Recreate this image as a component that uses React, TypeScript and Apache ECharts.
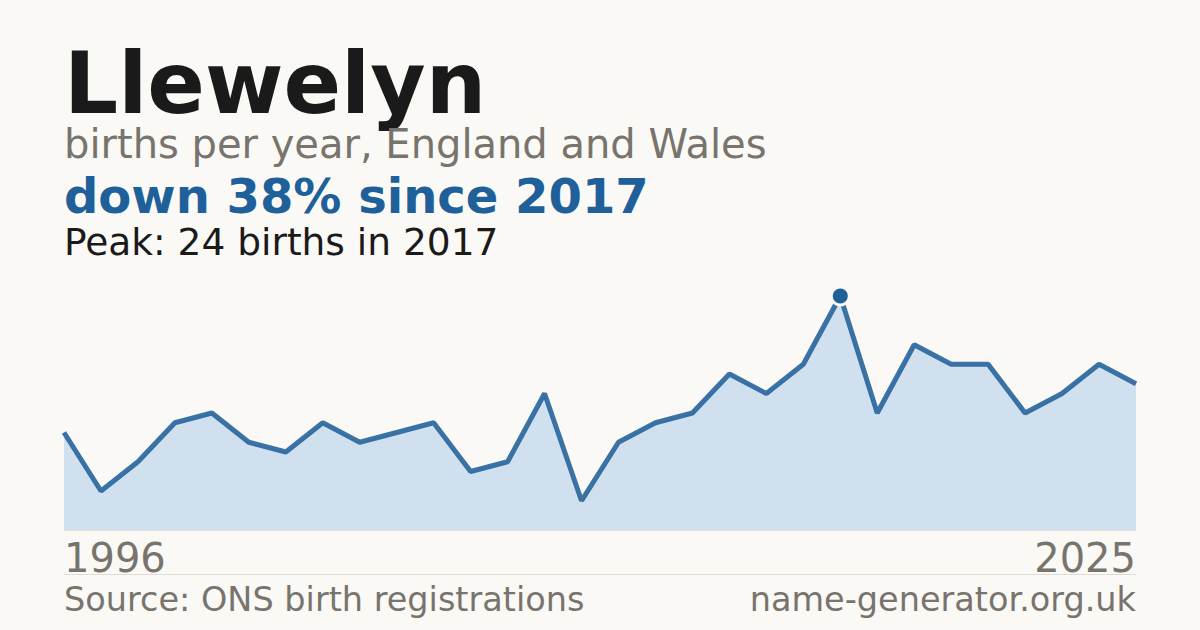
import { useEffect, useRef } from 'react'
import * as echarts from 'echarts'

const years = [
  '1996', '1997', '1998', '1999', '2000', '2001', '2002', '2003', '2004', '2005',
  '2006', '2007', '2008', '2009', '2010', '2011', '2012', '2013', '2014', '2015',
  '2016', '2017', '2018', '2019', '2020', '2021', '2022', '2023', '2024', '2025',
]
const births = [10, 4, 7, 11, 12, 9, 8, 11, 9, 10, 11, 6, 7, 14, 3, 9, 11, 12, 16, 14, 17, 24, 12, 19, 17, 17, 12, 14, 17, 15]
const peakYear = '2017'

const FONT = '"DejaVu Sans", sans-serif'
const BG = '#faf9f5'
const BLUE = '#20609a'
const GREY = '#78746d'

export default function App() {
  const chartRef = useRef<HTMLDivElement>(null)

  useEffect(() => {
    document.body.style.margin = '0'
    if (!chartRef.current) return
    const chart = echarts.init(chartRef.current, undefined, { renderer: 'svg' })
    const peakIdx = years.indexOf(peakYear)

    chart.setOption({
      animation: false,
      backgroundColor: BG,
      grid: { left: 64, right: 64, top: 296, bottom: 100 },
      xAxis: {
        type: 'category',
        data: years,
        boundaryGap: false,
        axisLine: { show: true, lineStyle: { color: '#e4dfd8', width: 1 } },
        axisTick: { show: false },
        axisLabel: {
          interval: (i: number) => i === 0 || i === years.length - 1,
          alignMinLabel: 'left',
          alignMaxLabel: 'right',
          color: GREY,
          fontFamily: FONT,
          fontSize: 40,
          margin: 8,
        },
      },
      yAxis: { type: 'value', min: 0, max: 24, show: false, splitLine: { show: false } },
      series: [
        {
          type: 'line',
          data: births.map((v, i) =>
            i === peakIdx
              ? {
                  value: v,
                  symbol: 'circle',
                  symbolSize: 18,
                  itemStyle: { color: BLUE, borderColor: BG, borderWidth: 3 },
                }
              : { value: v, symbol: 'none' }
          ),
          showSymbol: true,
          lineStyle: { color: BLUE, width: 5, opacity: 0.88 },
          areaStyle: { color: '#d0e0ef', opacity: 1 },
          z: 2,
        },
      ],
      graphic: [
        {
          type: 'text',
          left: 64,
          top: 41,
          style: { text: 'Llewelyn', font: `bold 85px ${FONT}`, lineHeight: 81, fill: '#1a1a1a' },
        },
        {
          type: 'text',
          left: 64,
          top: 124,
          style: { text: 'births per year, England and Wales', font: `40px ${FONT}`, fill: GREY },
        },
        {
          type: 'text',
          left: 64,
          top: 172,
          style: { text: `down 38% since ${peakYear}`, font: `bold 48px ${FONT}`, fill: BLUE },
        },
        {
          type: 'text',
          left: 64,
          top: 223,
          style: { text: `Peak: 24 births in ${peakYear}`, font: `37.5px ${FONT}`, fill: '#1a1a1a' },
        },
        {
          type: 'line',
          shape: { x1: 64, y1: 574.5, x2: 1136, y2: 574.5 },
          style: { stroke: '#e0dcd5', lineWidth: 1 },
        },
        {
          type: 'text',
          left: 64,
          top: 582,
          style: { text: 'Source: ONS birth registrations', font: `33.5px ${FONT}`, fill: GREY },
        },
        {
          type: 'text',
          right: 64,
          top: 582,
          style: { text: 'name-generator.org.uk', font: `33.5px ${FONT}`, fill: GREY },
        },
      ],
    })

    return () => {
      chart.dispose()
    }
  }, [])

  return <div ref={chartRef} style={{ width: '1200px', height: '630px' }} />
}
